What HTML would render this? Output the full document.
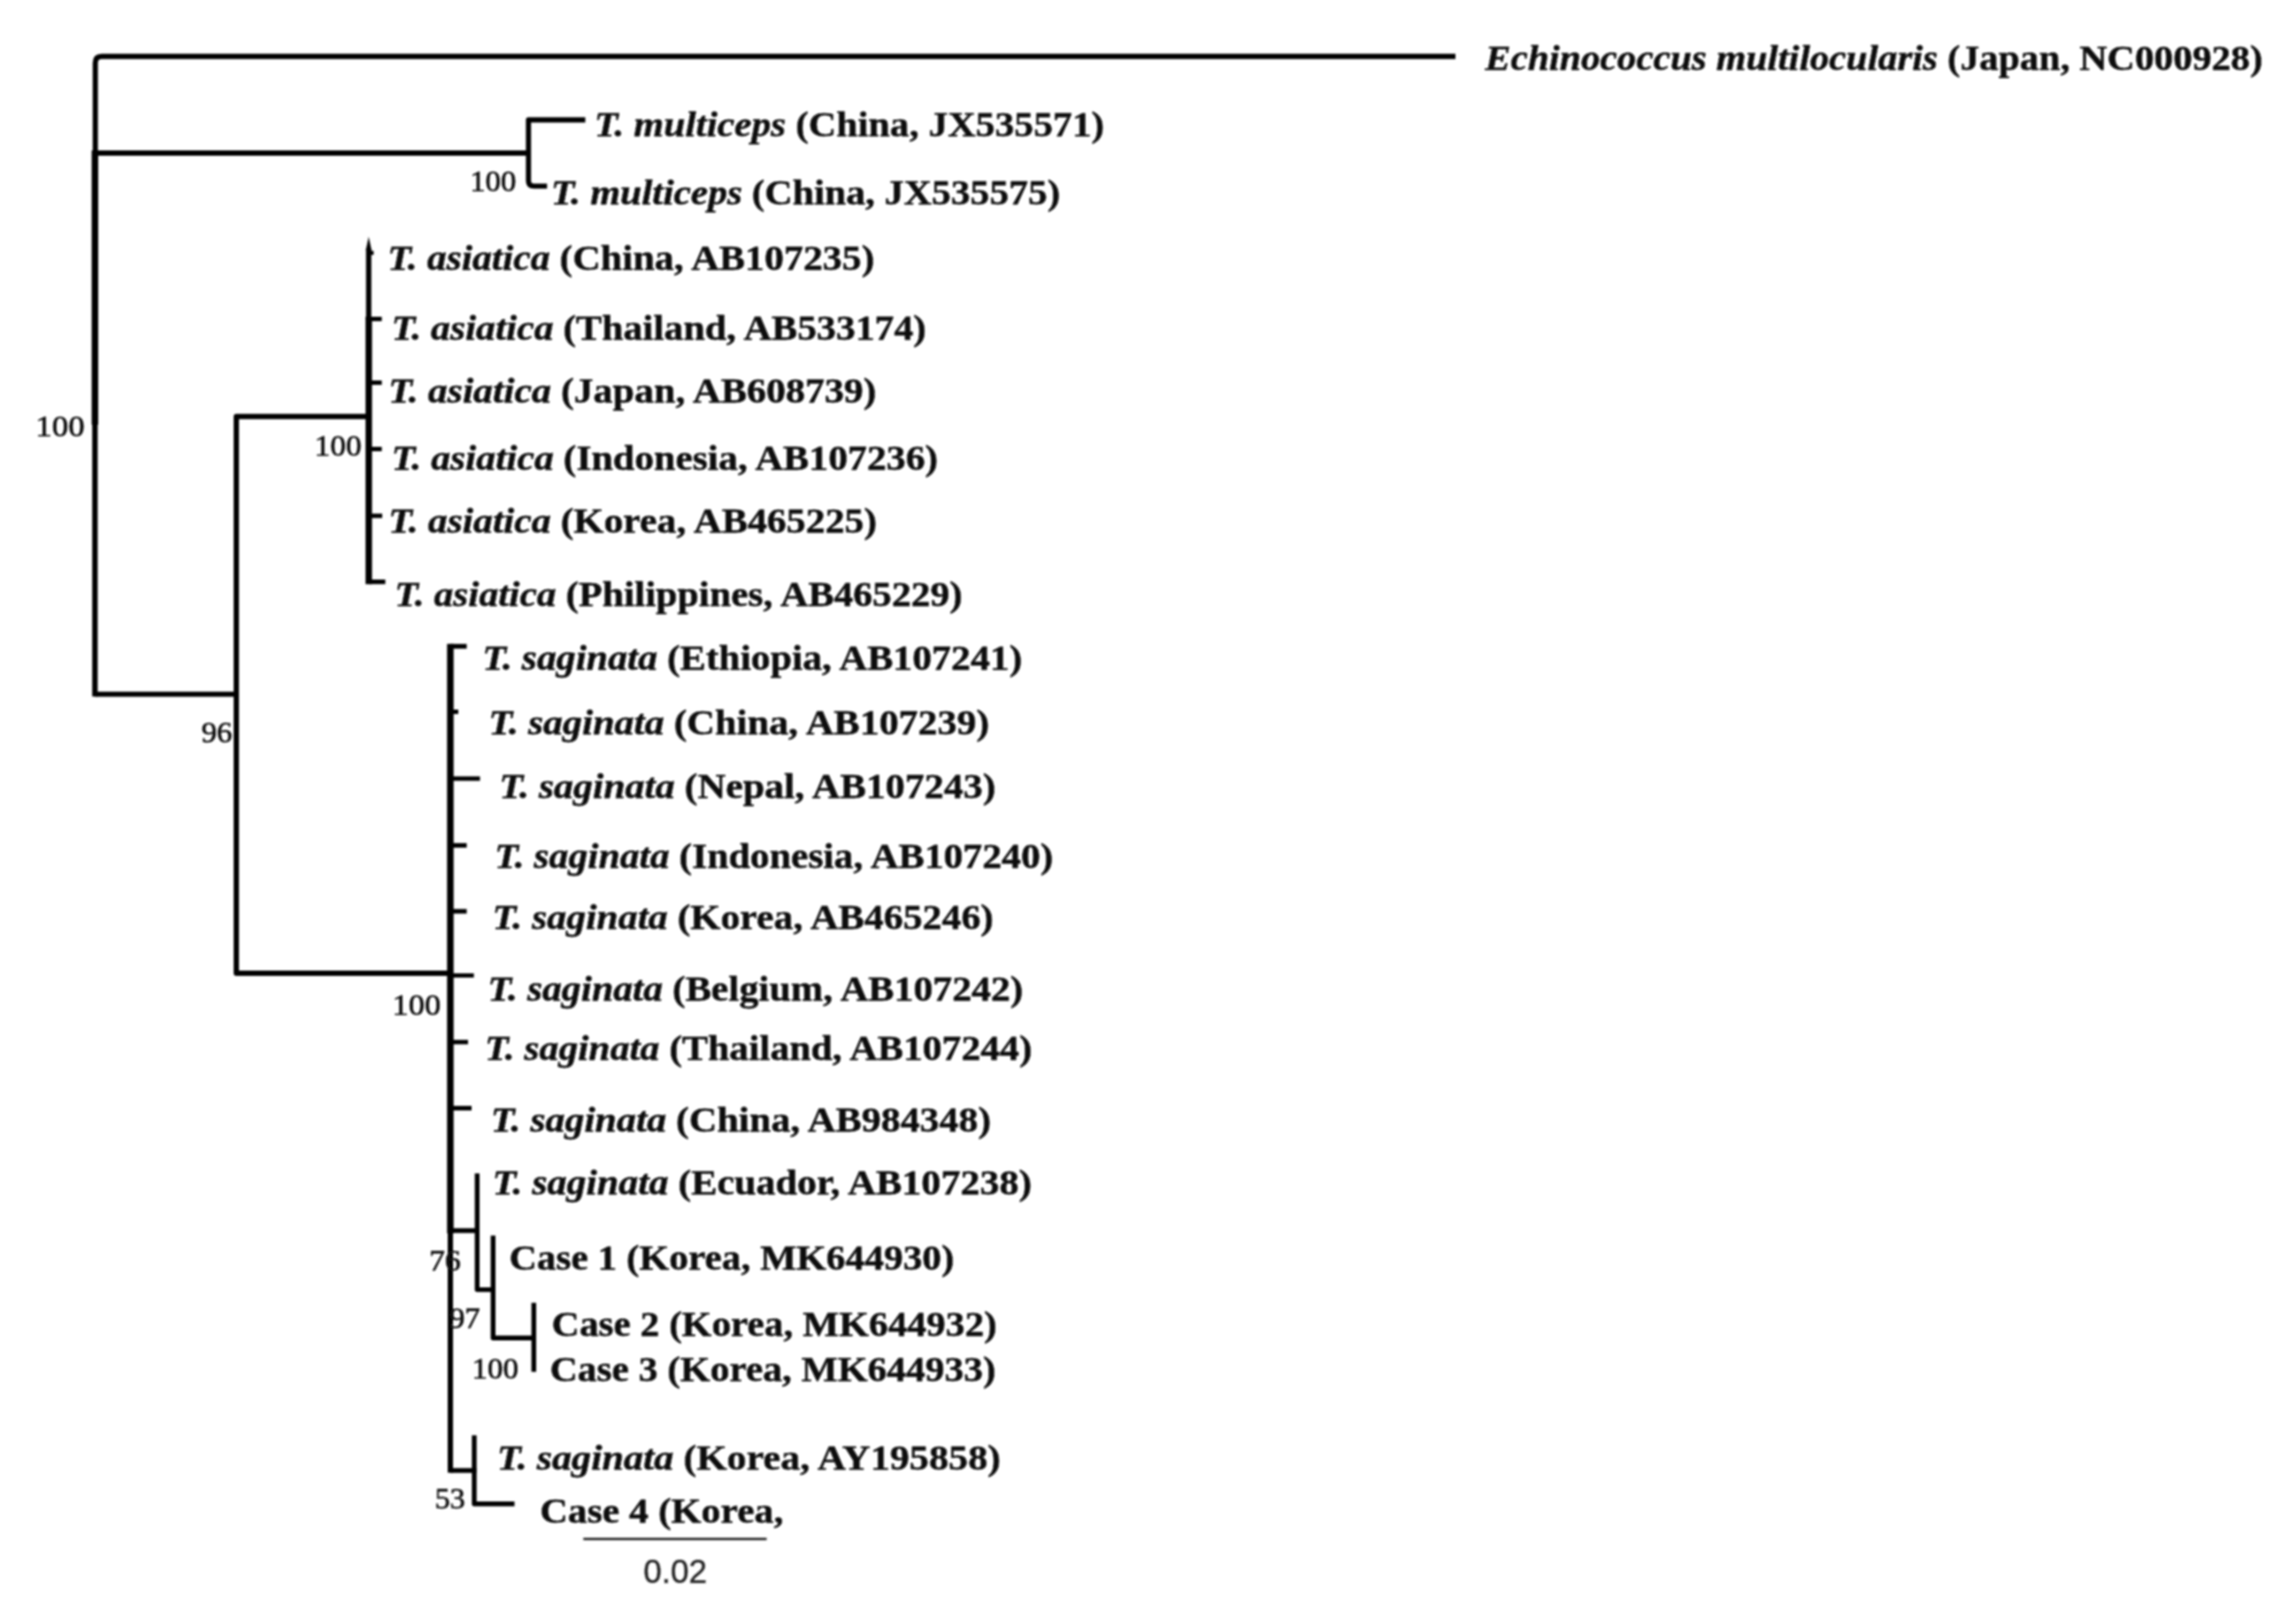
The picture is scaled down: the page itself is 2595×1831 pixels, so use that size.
<!DOCTYPE html>
<html lang="en"><head><meta charset="utf-8"><title>Phylogenetic tree</title>
<style>
html,body{margin:0;padding:0;background:#fff;}
body{width:2595px;height:1831px;overflow:hidden;}
svg{display:block;}
.tip{font-family:"Liberation Serif",serif;font-weight:bold;font-size:40.5px;fill:#0b0b0b;stroke:#0b0b0b;stroke-width:0.45px;white-space:pre;}
.tip .it{font-style:italic;}
.bs{font-family:"Liberation Serif",serif;font-size:34px;fill:#111;stroke:#111;stroke-width:0.7px;}
.sc{font-family:"Liberation Sans",sans-serif;font-size:37px;fill:#262626;stroke:#262626;stroke-width:0.4px;}
#branches path{stroke:#060606;fill:none;stroke-linecap:butt;stroke-linejoin:round;}
line{stroke:#0a0a0a;}
</style></head><body>
<svg width="2595" height="1831" viewBox="0 0 2595 1831">
<rect width="2595" height="1831" fill="#ffffff"/>
<defs><filter id="soft" x="0" y="0" width="2595" height="1831" filterUnits="userSpaceOnUse"><feGaussianBlur stdDeviation="0.9"/></filter></defs>
<g id="figure" filter="url(#soft)">
<g id="branches">
<path d="M1645,63.8 H115 Q107.7,63.8 107.7,71 V174" stroke-width="5.9"/>
<path d="M107.3,170 V480" stroke-width="7.4"/>
<path d="M107.3,476 V787.3" stroke-width="6.2"/>
<path d="M107.5,173 H597.3" stroke-width="5.9"/>
<path d="M107.5,784.6 H267" stroke-width="5.8"/>
<path d="M661.5,135.5 H597.3 V204.5 Q597.3,210.4 603.5,210.4 H618.3" stroke-width="5.8"/>
<path d="M417,470.7 H267.1 V1099.9 H509" stroke-width="6.0"/>
<path d="M416.7,281 V362" stroke-width="6.0"/>
<path d="M416.7,267.5 L419.9,282.5 L413.5,282.5 Z" style="fill:#060606;stroke:none"/>
<path d="M416.8,358 V660.2" stroke-width="7.3"/>
<path d="M417,285.8 H422.3" stroke-width="4.6"/>
<path d="M417,360.5 H431.5" stroke-width="5"/>
<path d="M417,432.5 H431.5" stroke-width="5"/>
<path d="M417,507.5 H431.5" stroke-width="5"/>
<path d="M417,583 H432" stroke-width="5"/>
<path d="M417,657.6 H435.5" stroke-width="5.2"/>
<path d="M509,727.8 V1394" stroke-width="7.4"/>
<path d="M509,1388 V1664.6" stroke-width="6.0"/>
<path d="M509,730.5 H527.5" stroke-width="5.4"/>
<path d="M509,804.5 H518" stroke-width="5"/>
<path d="M509,880 H542.5" stroke-width="5.2"/>
<path d="M509,955.5 H527.5" stroke-width="5.2"/>
<path d="M509,1030 H527.5" stroke-width="5.2"/>
<path d="M509,1102.5 H535.6" stroke-width="4.8"/>
<path d="M509,1177.8 H529" stroke-width="5.0"/>
<path d="M509,1252.5 H533" stroke-width="5.2"/>
<path d="M509,1390.9 H541" stroke-width="5.4"/>
<path d="M539.3,1326.3 V1457.6 H560" stroke-width="5.4"/>
<path d="M557.3,1396.5 V1512.3 H606" stroke-width="5.4"/>
<path d="M603.3,1472.5 V1550.5" stroke-width="5.4"/>
<path d="M509,1662 H538.5" stroke-width="5.4"/>
<path d="M536,1622.2 V1699.8 H581.5" stroke-width="5.4"/>
</g>
<g id="tips">
<text class="tip" transform="translate(1678.5,78.8) scale(1.0702,1)"><tspan class="it">Echinococcus multilocularis</tspan> (Japan, NC000928)</text>
<text class="tip" transform="translate(671.77,153.5) scale(1.0774,1)"><tspan class="it">T. multiceps</tspan> (China, JX535571)</text>
<text class="tip" transform="translate(622.77,230.5) scale(1.0755,1)"><tspan class="it">T. multiceps</tspan> (China, JX535575)</text>
<text class="tip" transform="translate(438.05,305) scale(1.0829,1)"><tspan class="it">T. asiatica</tspan> (China, AB107235)</text>
<text class="tip" transform="translate(442.56,384) scale(1.0796,1)"><tspan class="it">T. asiatica</tspan> (Thailand, AB533174)</text>
<text class="tip" transform="translate(439.04,455) scale(1.0855,1)"><tspan class="it">T. asiatica</tspan> (Japan, AB608739)</text>
<text class="tip" transform="translate(442.56,530.5) scale(1.0816,1)"><tspan class="it">T. asiatica</tspan> (Indonesia, AB107236)</text>
<text class="tip" transform="translate(439.05,602) scale(1.0834,1)"><tspan class="it">T. asiatica</tspan> (Korea, AB465225)</text>
<text class="tip" transform="translate(446.07,685) scale(1.0773,1)"><tspan class="it">T. asiatica</tspan> (Philippines, AB465229)</text>
<text class="tip" transform="translate(545.26,757) scale(1.0809,1)"><tspan class="it">T. saginata</tspan> (Ethiopia, AB107241)</text>
<text class="tip" transform="translate(552.15,829.8) scale(1.0847,1)"><tspan class="it">T. saginata</tspan> (China, AB107239)</text>
<text class="tip" transform="translate(564.14,902) scale(1.0855,1)"><tspan class="it">T. saginata</tspan> (Nepal, AB107243)</text>
<text class="tip" transform="translate(558.96,980.5) scale(1.0802,1)"><tspan class="it">T. saginata</tspan> (Indonesia, AB107240)</text>
<text class="tip" transform="translate(556.55,1049.5) scale(1.0828,1)"><tspan class="it">T. saginata</tspan> (Korea, AB465246)</text>
<text class="tip" transform="translate(551.36,1131) scale(1.0809,1)"><tspan class="it">T. saginata</tspan> (Belgium, AB107242)</text>
<text class="tip" transform="translate(548.06,1197.8) scale(1.0786,1)"><tspan class="it">T. saginata</tspan> (Thailand, AB107244)</text>
<text class="tip" transform="translate(554.75,1279.4) scale(1.0838,1)"><tspan class="it">T. saginata</tspan> (China, AB984348)</text>
<text class="tip" transform="translate(556.54,1350.2) scale(1.0872,1)"><tspan class="it">T. saginata</tspan> (Ecuador, AB107238)</text>
<text class="tip" transform="translate(575.46,1434.5) scale(1.0721,1)">Case 1 (Korea, MK644930)</text>
<text class="tip" transform="translate(623.56,1510) scale(1.0721,1)">Case 2 (Korea, MK644932)</text>
<text class="tip" transform="translate(621.45,1561) scale(1.0742,1)">Case 3 (Korea, MK644933)</text>
<text class="tip" transform="translate(561.72,1661) scale(1.0917,1)"><tspan class="it">T. saginata</tspan> (Korea, AY195858)</text>
<text class="tip" transform="translate(610.14,1721) scale(1.0817,1)">Case 4 (Korea,</text>
</g>
<g id="bootstrap">
<text class="bs" transform="translate(40.24,492.9) scale(1.0851,1)">100</text>
<text class="bs" transform="translate(531.13,216.3) scale(1.0234,1)">100</text>
<text class="bs" transform="translate(355.59,515.3) scale(1.0383,1)">100</text>
<text class="bs" transform="translate(227.68,839) scale(1.0219,1)">96</text>
<text class="bs" transform="translate(443.59,1146.9) scale(1.0702,1)">100</text>
<text class="bs" transform="translate(484.89,1436.3) scale(1.0548,1)">76</text>
<text class="bs" transform="translate(507.98,1500.9) scale(1.0219,1)">97</text>
<text class="bs" transform="translate(533.62,1557.6) scale(1.0277,1)">100</text>
<text class="bs" transform="translate(491.38,1705.3) scale(1.0097,1)">53</text>
</g>
<g id="scalebar">
<line x1="659.3" y1="1739.3" x2="866.5" y2="1739.3" stroke-width="2.8" style="stroke:#2a2a2a"/>
<text class="sc" x="763.2" y="1788.5" text-anchor="middle">0.02</text>
</g>
</g>
</svg>
</body></html>
